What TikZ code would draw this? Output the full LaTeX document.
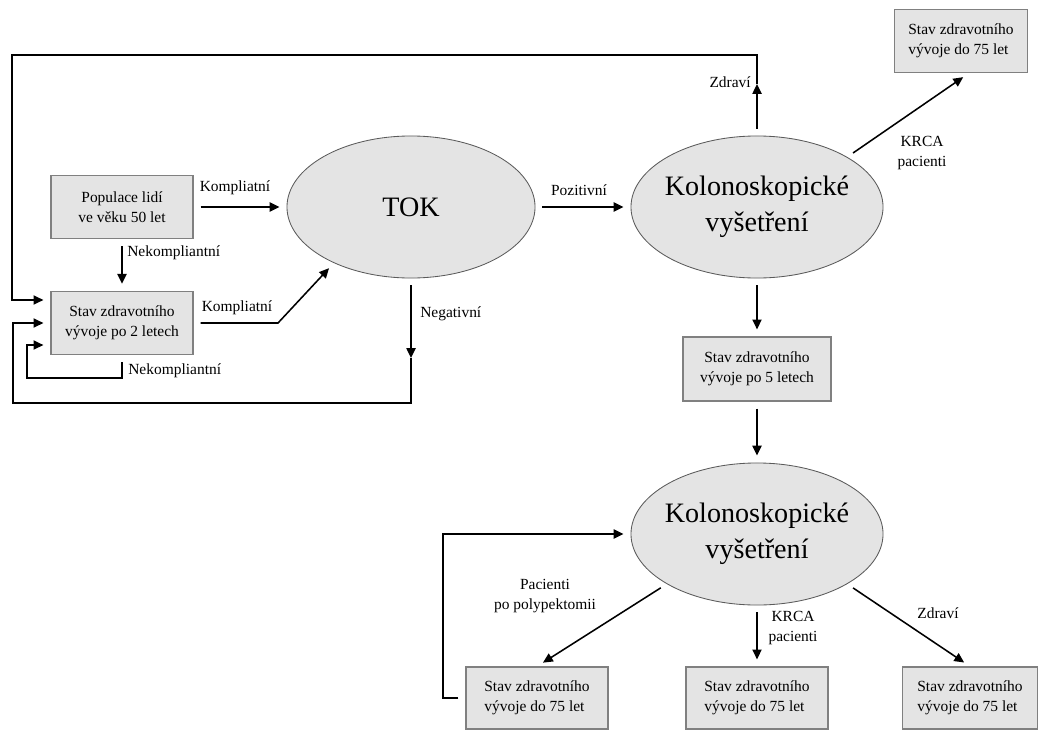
\documentclass[tikz,border=0pt]{standalone}
\usepackage{fontspec}
\setmainfont{Liberation Serif}
\usepackage{tikz}
\usetikzlibrary{arrows.meta,shapes.geometric,calc}
\definecolor{boxfill}{HTML}{E4E4E4}
\definecolor{boxline}{HTML}{808080}
\definecolor{ellline}{HTML}{5A5A5A}

\begin{document}
\begin{tikzpicture}[x=0.025cm,y=-0.025cm,
  stav/.style={draw=boxline,fill=boxfill,line width=0.8pt,minimum width=3.55cm,minimum height=1.58cm,align=center,inner sep=2pt,font=\fontsize{11}{14}\selectfont},
  stavl/.style={stav,align=left},
  oval/.style={ellipse,draw=ellline,fill=boxfill,line width=0.6pt,minimum width=6.3cm,minimum height=3.55cm,inner xsep=-4pt,inner ysep=0pt,align=center,font=\fontsize{20}{25.5}\selectfont},
  lab/.style={font=\fontsize{11}{14}\selectfont,inner sep=0pt,align=center},
  arr/.style={line width=1.1pt,-{Triangle[length=7pt,width=6.5pt]},shorten >=5pt,shorten <=5pt}]
\useasboundingbox (0,0) rectangle (1043,729);

% boxes and ovals
\node[stav] (pop) at (122,207) {Populace lidí\\ve věku 50 let};
\node[stav] (s2) at (122,323) {Stav zdravotního\\vývoje po 2 letech};
\node[oval,minimum width=6.2cm] (tok) at (411,207) {TOK};
\node[oval] (kol1) at (757,207) {Kolonoskopické\\vyšetření};
\node[stavl,minimum width=3.33cm] (rt) at (961,41) {Stav zdravotního\\vývoje do 75 let};
\node[stav,minimum width=3.7cm,minimum height=1.6cm] (s5) at (757,369) {Stav zdravotního\\vývoje po 5 letech};
\node[oval] (kol2) at (757,534) {Kolonoskopické\\vyšetření};
\node[stavl,minimum height=1.55cm] (lb) at (537,698) {Stav zdravotního\\vývoje do 75 let};
\node[stavl,minimum height=1.55cm] (mb) at (757,698) {Stav zdravotního\\vývoje do 75 let};
\node[stavl,minimum width=3.38cm,minimum height=1.55cm] (rb) at (970,698) {Stav zdravotního\\vývoje do 75 let};

% first stage
\draw[arr] (pop) -- (tok);
\node[lab] at (235,188) {Kompliatní};
\draw[arr] (pop) -- (s2);
\node[lab,anchor=west] at (127,253) {Nekompliantní};
\draw[arr] (s2.east) -- (278,323) -- (tok.216);
\node[lab] at (237,308) {Kompliatní};
\draw[arr] (tok) -- (kol1);
\node[lab] at (579,190) {Pozitivní};

% healthy -> back to start
\coordinate (zd) at (757,84);
\draw[arr,shorten >=0pt] (kol1) -- (zd);
\draw[arr,shorten <=0pt] (zd) -- (757,55) -- (12,55) |- ([yshift=0.575cm]s2.west);
\node[lab,anchor=east] at (751,82) {Zdraví};

\draw[arr] (kol1.29) -- ([xshift=0.2cm]rt.south);
\node[lab] at (922,153) {KRCA\\pacienti};

% negative -> back
\coordinate (ng) at (411,358);
\draw[arr,shorten >=0pt] (tok) -- (ng);
\draw[arr,shorten <=0pt] (ng) -- (411,403) -- (13,403) |- (s2.west);
\node[lab,anchor=west] at (420,314) {Negativní};

\draw[arr] (s2.south) -- (122,378) -- (27,378) |- ([yshift=-0.55cm]s2.west);
\node[lab,anchor=west] at (128,371) {Nekompliantní};

% second stage
\draw[arr] (kol1) -- (s5);
\draw[arr] (s5) -- (kol2);
\draw[arr] (kol2.209) -- (lb.north);
\node[lab] at (545,596) {Pacienti\\po polypektomii};
\draw[arr] (kol2) -- (mb);
\node[lab] at (793,628) {KRCA\\pacienti};
\draw[arr] (kol2.331) -- (rb.north);
\node[lab] at (938,613) {Zdraví};
\draw[arr] (lb.west) -- (443,698) |- (kol2.west);
\end{tikzpicture}
\end{document}
